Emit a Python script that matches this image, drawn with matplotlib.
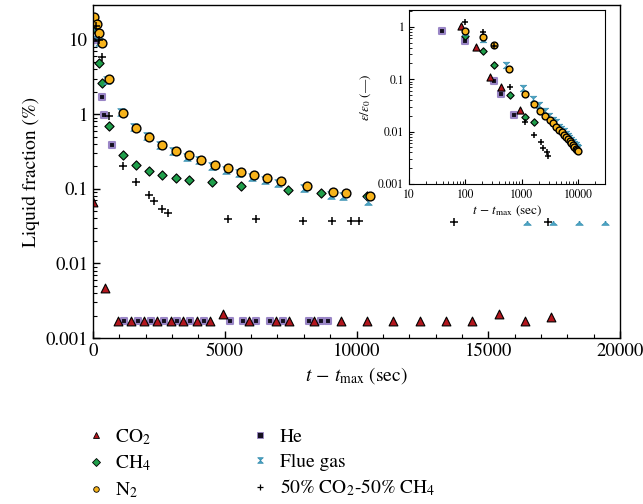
import numpy as np
import matplotlib
matplotlib.use('Agg')
import matplotlib.pyplot as plt
from matplotlib.path import Path
from matplotlib.patches import Rectangle
from matplotlib.ticker import FixedLocator, FuncFormatter, LogLocator, NullFormatter, MultipleLocator

plt.rcParams['font.family'] = ['STIXGeneral', 'DejaVu Serif']
plt.rcParams['mathtext.fontset'] = 'stix'

# ---- main plot data (time in s, liquid fraction in %) ----
co2_t = [0, 460, 930, 1430, 1930, 2430, 2950, 3430, 3950, 4450, 4950, 5930, 6930, 7430,
         8400, 9400, 10400, 11400, 12400, 13400, 14400, 15400, 16400, 17400]
co2_y = [0.067, 0.0047, 0.0017, 0.0017, 0.0017, 0.0017, 0.0017, 0.0017, 0.0017, 0.0017,
         0.0021, 0.0017, 0.0017, 0.0017, 0.0017, 0.0017, 0.0017, 0.0017, 0.0017, 0.0017,
         0.0017, 0.0021, 0.0017, 0.0019]

ch4_t = [0, 227, 341, 606, 1136, 1629, 2121, 2614, 3144, 3636, 4508, 5606, 7386, 8636, 10417]
ch4_y = [14, 4.8, 2.6, 0.69, 0.28, 0.21, 0.174, 0.154, 0.14, 0.132, 0.124, 0.11, 0.097, 0.087, 0.081]

n2_t = [38, 152, 227, 341, 606, 1136, 1629, 2121, 2614, 3144, 3636, 4091, 4621, 5114, 5606,
        6098, 6591, 7121, 8106, 9091, 9583, 10530]
n2_y = [20, 16, 12.4, 9.1, 3.0, 1.03, 0.65, 0.49, 0.39, 0.32, 0.28, 0.24, 0.21, 0.19, 0.17,
        0.154, 0.14, 0.128, 0.11, 0.091, 0.088, 0.081]

he_t = [39, 100, 341, 417, 720, 1170, 1690, 2200, 2700, 3200, 3700, 4200, 5190, 5690, 6200,
        6700, 7200, 8200, 8650, 8900]
he_y = [15, 9.7, 1.69, 0.97, 0.386, 0.0017, 0.0017, 0.0017, 0.0017, 0.0017, 0.0017, 0.0017,
        0.0017, 0.0017, 0.0017, 0.0017, 0.0017, 0.0017, 0.0017, 0.0017]

flue_t = [0, 152, 227, 530, 1061, 1553, 2045, 2538, 3030, 3561, 4015, 4508, 5038, 5530, 6023,
          6515, 7008, 7992, 9015, 9470, 10455, 16477, 17462, 18447, 19432]
flue_y = [18.5, 12.4, 9.4, 2.9, 1.06, 0.67, 0.51, 0.39, 0.32, 0.27, 0.24, 0.20, 0.18, 0.163,
          0.145, 0.132, 0.12, 0.103, 0.083, 0.081, 0.069, 0.037, 0.037, 0.037, 0.037]

mix_t = [100, 209, 341, 606, 1136, 1629, 2121, 2311, 2614, 2841, 5114, 6174, 7955, 9053,
         9773, 10076, 13712, 17273]
mix_y = [15, 10, 5.9, 0.94, 0.2, 0.124, 0.083, 0.069, 0.054, 0.048, 0.039, 0.039, 0.037,
         0.037, 0.037, 0.037, 0.036, 0.036]

# ---- inset data (normalised) ----
co2_ti = [85, 157, 268, 422, 920]
co2_yi = [1.04, 0.42, 0.11, 0.072, 0.026]
ch4_ti = [100, 209, 316, 630, 1120, 1630]
ch4_yi = [0.67, 0.35, 0.19, 0.049, 0.019, 0.015]
n2_ti = [100, 209, 316, 606, 1136, 1629, 2121, 2614, 3144, 3636, 4091, 4621, 5114, 5606,
         6098, 6591, 7121, 7600, 8106, 8600, 9091, 9583, 10000]
n2_yi = [0.84, 0.64, 0.45, 0.155, 0.053, 0.033, 0.025, 0.020, 0.0164, 0.0144, 0.0123, 0.0108,
         0.0097, 0.0087, 0.0079, 0.0072, 0.0066, 0.0061, 0.0056, 0.0051, 0.0047, 0.0045, 0.0042]
he_ti = [39, 100, 316, 422, 720]
he_yi = [0.84, 0.54, 0.094, 0.053, 0.021]
flue_ti = [100, 209, 520, 1050, 1553, 2045, 2538, 3030, 3561, 4015, 4508, 5038, 5530, 6023,
           6515, 7008, 7500, 7992, 8500, 9015, 9470, 10000]
flue_yi = [0.80, 0.59, 0.19, 0.069, 0.042, 0.032, 0.0244, 0.020, 0.0169, 0.015, 0.0125,
           0.0113, 0.0102, 0.0091, 0.0083, 0.0075, 0.0069, 0.0064, 0.0059, 0.0055, 0.0051, 0.0048]
mix_ti = [100, 209, 316, 611, 1120, 1630, 2170, 2400, 2760, 2900]
mix_yi = [1.25, 0.80, 0.44, 0.072, 0.015, 0.0088, 0.0062, 0.0049, 0.0040, 0.0034]

# hourglass marker for flue gas
hourglass = Path([(-1, 1), (1, 1), (-0.15, 0), (1, -1), (-1, -1), (0.15, 0), (-1, 1)],
                 [Path.MOVETO] + [Path.LINETO] * 5 + [Path.CLOSEPOLY])

styles = {
    'co2': dict(marker='^', color='#b3161d', ec='k', lw=0.8),
    'ch4': dict(marker='D', color='#1f9e4a', ec='k', lw=0.8),
    'n2': dict(marker='o', color='#f7b31b', ec='k', lw=1.0),
    'he': dict(marker='s', color='#151020', ec='#9a86c6', lw=1.5),
    'flue': dict(marker=hourglass, color='#4aa6c6', ec='#3a8fb0', lw=0.5),
    'mix': dict(marker='+', color='k', ec='k', lw=1.1),
}


def scat(ax, x, y, key, s, z=3):
    st = styles[key]
    if key == 'mix':
        ax.scatter(x, y, s=s, marker='+', c='k', linewidths=st['lw'], zorder=z)
    else:
        ax.scatter(x, y, s=s, marker=st['marker'], c=st['color'], edgecolors=st['ec'],
                   linewidths=st['lw'], zorder=z)


fig = plt.figure(figsize=(6.43, 5.04), dpi=100)
ax = fig.add_axes([93 / 643, 1 - 338 / 504, 527 / 643, 333 / 504])

scat(ax, he_t, he_y, 'he', 24, 3)
scat(ax, co2_t, co2_y, 'co2', 40, 4)
scat(ax, ch4_t, ch4_y, 'ch4', 22, 3)
scat(ax, flue_t, flue_y, 'flue', 30, 3)
scat(ax, n2_t, n2_y, 'n2', 40, 4)
scat(ax, mix_t, mix_y, 'mix', 30, 5)

# white box behind the inset (covers the flue-gas marks partly, as in the original)
ax.add_patch(Rectangle((377 / 643, 1 - 221 / 504), 241 / 643, 215 / 504,
                       transform=fig.transFigure, facecolor='white', edgecolor='none',
                       zorder=4.5, clip_on=False))

ax.set_yscale('log')
ax.set_xlim(0, 20000)
ax.set_ylim(0.001, 29)
ax.xaxis.set_major_locator(MultipleLocator(5000))
ax.xaxis.set_minor_locator(MultipleLocator(1000))
ax.yaxis.set_major_locator(FixedLocator([0.001, 0.01, 0.1, 1, 10]))
ax.yaxis.set_major_formatter(FuncFormatter(lambda v, p: '%g' % v))
ax.yaxis.set_minor_locator(LogLocator(base=10, subs=np.arange(2, 10)))
ax.yaxis.set_minor_formatter(NullFormatter())
ax.tick_params(which='both', direction='in', labelsize=13.5, top=False, right=False)
ax.tick_params(which='major', length=5, width=1)
ax.tick_params(which='minor', length=3, width=0.8)
for sp in ax.spines.values():
    sp.set_linewidth(1.0)
    sp.set_zorder(6)
ax.set_xlabel(r'$t\,-\,t_{\mathrm{max}}$ (sec)', fontsize=14, labelpad=4)
ax.set_ylabel('Liquid fraction (%)', fontsize=14, labelpad=4)

axi = fig.add_axes([409 / 643, 1 - 184 / 504, 196 / 643, 174 / 504])
axi.set_zorder(1)
scat(axi, he_ti, he_yi, 'he', 14, 3)
scat(axi, co2_ti, co2_yi, 'co2', 26, 4)
scat(axi, ch4_ti, ch4_yi, 'ch4', 14, 3)
scat(axi, flue_ti, flue_yi, 'flue', 22, 3)
scat(axi, n2_ti, n2_yi, 'n2', 24, 4)
scat(axi, mix_ti, mix_yi, 'mix', 22, 5)
axi.set_xscale('log')
axi.set_yscale('log')
axi.set_xlim(10, 30000)
axi.set_ylim(0.001, 2.1)
axi.xaxis.set_major_locator(FixedLocator([10, 100, 1000, 10000]))
axi.yaxis.set_major_locator(FixedLocator([0.001, 0.01, 0.1, 1]))
axi.xaxis.set_major_formatter(FuncFormatter(lambda v, p: '%g' % v))
axi.yaxis.set_major_formatter(FuncFormatter(lambda v, p: '%g' % v))
for a in (axi.xaxis, axi.yaxis):
    a.set_minor_locator(LogLocator(base=10, subs=np.arange(2, 10)))
    a.set_minor_formatter(NullFormatter())
axi.tick_params(which='both', direction='in', labelsize=8.5, top=False, right=False)
axi.tick_params(which='major', length=3.5, width=0.8)
axi.tick_params(which='minor', length=2, width=0.6)
axi.set_xlabel(r'$t\,-\,t_{\mathrm{max}}$ (sec)', fontsize=9.5, labelpad=2)
axi.set_ylabel(r'$\varepsilon/\varepsilon_0$ (—)', fontsize=9.5, labelpad=4)

# legend handles
labels = ['CO$_2$', 'CH$_4$', 'N$_2$', 'He', 'Flue gas', '50% CO$_2$-50% CH$_4$']
keys = ['co2', 'ch4', 'n2', 'he', 'flue', 'mix']
handles = []
for k, lab in zip(keys, labels):
    st = styles[k]
    if k == 'mix':
        h = plt.Line2D([], [], ls='none', marker='+', color='k', mew=0.9, ms=4, label=lab)
    else:
        h = plt.Line2D([], [], ls='none', marker=st['marker'], mfc=st['color'], mec=st['ec'],
                       mew=0.6, ms=4, label=lab)
    handles.append(h)
fig.legend(handles=handles, ncol=2, loc='upper left', bbox_to_anchor=(88 / 643, 1 - 427 / 504),
           frameon=False, fontsize=14, handlelength=0.8, handletextpad=0.6,
           columnspacing=5.2, labelspacing=0.36, borderpad=0, borderaxespad=0)

fig.savefig('out.png', dpi=100)
